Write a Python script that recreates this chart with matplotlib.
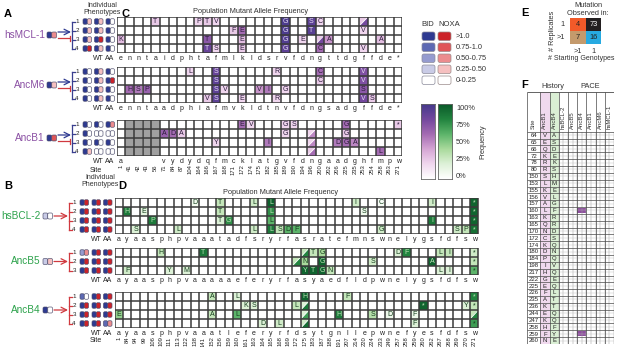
import matplotlib
matplotlib.use('Agg')
import matplotlib.pyplot as plt
from matplotlib.patches import Rectangle, FancyBboxPatch, Polygon
from matplotlib.colors import LinearSegmentedColormap
import numpy as np

plt.rcParams['font.family'] = ['Liberation Sans', 'DejaVu Sans']

W, H = 617, 347
fig = plt.figure(figsize=(W / 100, H / 100), dpi=100)
ov = fig.add_axes([0, 0, 1, 1])
ov.set_xlim(0, W); ov.set_ylim(H, 0); ov.axis('off')

# ---------------- DATA ----------------
purple_txt = '#8a4fa3'
green_txt = '#2ca24b'

# wild-type residues per grid
wt_mcl1 = list('enntaidphtafmlkldsrvfdngttdgffde*')
wt_m6 = list('enntaadphiafmvkldtnvfdngsadgffde*')
wt_b1 = ['a', '', '', '', ''] + list('vydydqfmcklatgvfdngaadghfmpw')
sites_b1 = [1, 41, 42, 43, 56, 71, 84, 87, 104, 164, 166, 167, 168, 171, 172, 174, 175,
            182, 185, 189, 190, 194, 196, 200, 202, 206, 225, 235, 253, 254, 258, 263, 271]
gray_b1 = [2, 3, 4, 5]

wt_bcl2 = list('ayaasphpvaaatadfsryrfasratefmnswnelygsfdfsw')
wt_b5 = list('ayaasphpvaaaaaeferyrfasyaedfldpwnelygsfdfsw')
wt_b4 = list('ayaasphpvaaatlefe' + 'ryrfdsytgnllepwnefyesfdfsw')
sites_b4 = [1, 84, 94, 99, 106, 109, 111, 113, 122, 138, 141, 152, 156, 159, 160, 161, 163,
            164, 165, 168, 169, 172, 175, 183, 187, 188, 191, 207, 214, 220, 224, 233, 249,
            257, 258, 259, 260, 262, 267, 268, 269, 270, 271]

# mutations: (replicate row, column, mutant residue, frequency)
mut_mcl1 = [(1, 5, 'T', .25), (1, 10, 'P', .2), (1, 11, 'T', .25), (1, 12, 'V', .2), (1, 20, 'G', .97),
            (1, 23, 'S', .9), (1, 24, 'C', .2),
            (2, 14, 'F', .25), (2, 15, 'E', .6), (2, 20, 'G', .97), (2, 23, 'T', .92), (2, 29, 'V', .2),
            (3, 1, 'K', .3), (3, 11, 'T', .7), (3, 15, 'E', .3), (3, 20, 'G', .95), (3, 22, 'E', .2),
            (3, 25, 'A', .45), (3, 31, 'A', .3),
            (4, 11, 'T', .85), (4, 12, 'S', .2), (4, 15, 'E', .25), (4, 20, 'G', .9), (4, 24, 'C', .6),
            (4, 29, 'V', .2)]
split_mcl1 = [(1, 29, .25, .8), (3, 24, .25, .8)]

mut_m6 = [(1, 9, 'L', .2), (1, 12, 'S', .85), (1, 19, 'R', .2), (1, 24, 'C', .6), (1, 29, 'V', .75),
          (2, 12, 'S', .9), (2, 24, 'C', .25), (2, 29, 'V', .75),
          (3, 2, 'H', .6), (3, 3, 'S', .55), (3, 4, 'P', .65), (3, 12, 'S', .9), (3, 13, 'V', .2),
          (3, 17, 'V', .45), (3, 18, 'I', .55), (3, 20, 'G', .2), (3, 29, 'S', .7),
          (4, 11, 'V', .25), (4, 12, 'S', .9), (4, 15, 'E', .2), (4, 19, 'R', .2), (4, 29, 'V', .8),
          (4, 30, 'S', .25)]
split_m6 = []

mut_b1 = [(1, 15, 'E', .6), (1, 16, 'V', .2), (1, 20, 'G', .2), (1, 21, 'S', .2), (1, 27, 'G', .6),
          (1, 33, '*', .25),
          (2, 6, 'A', .65), (2, 7, 'D', .6), (2, 8, 'A', .25), (2, 20, 'G', .2), (2, 27, 'G', .25),
          (3, 12, 'Y', .2), (3, 18, 'I', .55), (3, 26, 'D', .55), (3, 27, 'G', .6), (3, 28, 'A', .5),
          (4, 31, 'L', .6)]
split_b1 = [(2, 23, .2, .5), (3, 23, .2, .5), (4, 23, .25, .6)]

mut_bcl2 = [(1, 10, 'D', .08), (1, 13, 'T', .3), (1, 17, 'L', .25), (1, 19, 'L', .97), (1, 29, 'I', .25),
            (1, 32, 'C', .05), (1, 38, 'I', .25), (1, 43, '*', .95),
            (2, 2, 'H', .85), (2, 4, 'E', .15), (2, 13, 'T', .3), (2, 19, 'L', .75), (2, 30, 'S', .1),
            (2, 43, '*', .95),
            (3, 5, 'P', .85), (3, 13, 'T', .2), (3, 14, 'G', .75), (3, 19, 'L', .6), (3, 38, 'I', .85),
            (3, 43, '*', .95),
            (4, 3, 'S', .2), (4, 8, 'L', .25), (4, 17, 'L', .25), (4, 19, 'L', .85), (4, 20, 'S', .3),
            (4, 21, 'D', .6), (4, 22, 'F', .6), (4, 32, 'G', .25), (4, 41, 'S', .25), (4, 42, 'P', .3),
            (4, 43, '*', .9)]
split_bcl2 = []

mut_b5 = [(1, 6, 'H', .3), (1, 11, 'T', .85), (1, 24, 'T', .3), (1, 25, 'G', .4), (1, 34, 'D', .2),
          (1, 35, 'F', .8), (1, 39, 'L', .3), (1, 40, 'I', .3), (1, 43, '*', .25),
          (2, 23, 'N', .4), (2, 25, 'G', .95), (2, 31, 'S', .25), (2, 38, 'A', .95), (2, 43, '*', .3),
          (3, 2, 'F', .25), (3, 7, 'Y', .2), (3, 9, 'M', .2), (3, 23, 'Y', .95), (3, 24, 'T', .95),
          (3, 25, 'G', .95), (3, 26, 'N', .3), (3, 39, 'L', .2), (3, 40, 'I', .2), (3, 43, '*', .6)]
split_b5 = [(1, 23, .3, .8), (2, 22, .3, .8)]

mut_b4 = [(1, 12, 'A', .3), (1, 15, 'L', .2), (1, 23, 'H', .95), (1, 28, 'F', .3), (1, 43, '*', .8),
          (2, 16, 'K', .2), (2, 17, 'S', .2), (2, 22, 'L', .3), (2, 37, '*', .95), (2, 42, 'Y', .2),
          (2, 43, '*', .3),
          (3, 1, 'E', .45), (3, 12, 'A', .3), (3, 15, 'L', .6), (3, 27, 'H', .85), (3, 31, 'S', .35),
          (3, 33, 'D', .1), (3, 36, 'F', .1),
          (4, 18, 'D', .2), (4, 20, 'L', .25), (4, 36, 'F', .2), (4, 43, '*', .7)]
split_b4 = [(2, 23, .2, .85), (3, 23, .2, .7), (4, 23, .25, .9), (3, 43, .3, .8)]

# phenotype levels (BID, NOXA) 0..4 for [individual, WT, AA]
pheno_mcl1 = [[(4, 1), (4, 1), (4, 0)], [(4, 1), (4, 1), (4, 0)], [(4, 1), (4, 4), (4, 0)], [(4, 4), (4, 1), (4, 0)]]
pheno_m6 = [[(4, 0), (4, 1), (4, 0)], [(4, 0), (4, 1), (4, 4)], [(4, 0), (4, 1), (4, 0)], [(4, 0), (4, 1), (4, 0)]]
pheno_b1 = [[(4, 0), (4, 0), (4, 2)], [(4, 0), (0, 0), (0, 0)], [(4, 0), (4, 0), (4, 0)], [(4, 1), (0, 0), (0, 0)]]
pheno_bcl2 = [[(4, 4), (4, 4), (4, 4)], [(4, 4), (4, 4), (4, 4)], [(4, 4), (4, 4), (4, 4)], [(4, 4), (4, 4), (4, 4)]]
pheno_b5 = [[(2, 2), (4, 4), (4, 4)], [(4, 4), (4, 4), (4, 4)], [(4, 4), (4, 4), (4, 4)]]
pheno_b4 = [[(3, 0), (4, 4), (4, 4)], [(4, 4), (4, 4), (4, 4)], [(4, 4), (4, 4), (4, 4)], [(4, 4), (4, 4), (3, 2)]]
start_pheno = {'hsMCL-1': (4, 2), 'AncM6': (4, 1), 'AncB1': (4, 3),
               'hsBCL-2': (1, 0), 'AncB5': (1, 1), 'AncB4': (4, 0)}

# panel E
e_counts = [[4, 73], [7, 16]]
e_colors = [['#f15a29', '#231f20'], ['#c49a6c', '#27aae1']]
e_rows = ['1', '>1']
e_cols = ['>1', '1']

# panel F
f_sites = [64, 65, 66, 72, 78, 80, 150, 153, 155, 156, 157, 160, 163, 165, 170, 172, 174, 180, 184,
           198, 217, 222, 225, 226, 235, 236, 244, 247, 258, 259, 260]
f_ancb1 = list('VEQKRRSLKVALKQNCKDPIHGEFAKEKHFN')
f_ancb4 = list('ASDEKSHMELGFRRDSQNQVQEQLTTQQFYE')
f_pace = ['hsBCL-2', 'AncB5', 'AncB4', 'AncB1', 'AncM6', 'hsMCL-1']
f_hits = [(160, 'AncB4'), (259, 'AncB4')]

legend_levels = ['>1.0', '0.75-1.0', '0.50-0.75', '0.25-0.50', '0-0.25']
freq_ticks = ['100%', '75%', '50%', '25%', '0%']

# ---------------- STYLE ----------------
cmap_p = LinearSegmentedColormap.from_list('p', ['#ffffff', '#f0d6ee', '#d5a5d4', '#a46bb2', '#74489e', '#463a8c'])
cmap_g = LinearSegmentedColormap.from_list('g', ['#ffffff', '#ddf1d7', '#a9da9c', '#5cb46a', '#22843f', '#0b5a2a'])
blues = ['#ffffff', '#c9cbe6', '#959bcf', '#5d69b3', '#2e3a91']
reds = ['#ffffff', '#f6c0c0', '#ec8c8e', '#e05558', '#cc2229']


def pax(x0, y0, x1, y1):
    return fig.add_axes([x0 / W, 1 - y1 / H, (x1 - x0) / W, (y1 - y0) / H])


def draw_grid(box, wt, nrow, muts, splits, cmap, gray=(), sites=None, dark_txt='#2a1a3a', light_txt='#e6def2'):
    ax = pax(*box)
    n = len(wt)
    ax.set_xlim(0, n); ax.set_ylim(nrow, 0); ax.axis('off')
    for c in gray:
        ax.add_patch(Rectangle((c - 1, 0), 1, nrow, color='#a0a0a0', lw=0))
    for r, c, aa, f in muts:
        ax.add_patch(Rectangle((c - 1, r - 1), 1, 1, color=cmap(f), lw=0))
        ax.text(c - 0.5, r - 0.45, aa, ha='center', va='center', fontsize=5,
                color=light_txt if f > 0.7 else dark_txt)
    for r, c, f1, f2 in splits:
        ax.add_patch(Polygon([(c - 1, r - 1), (c, r - 1), (c - 1, r)], closed=True, color=cmap(f1), lw=0))
        ax.add_patch(Polygon([(c, r - 1), (c, r), (c - 1, r)], closed=True, color=cmap(f2), lw=0))
        ax.plot([c - 1, c], [r, r - 1], color='white', lw=0.6)
    ax.vlines(np.arange(n + 1), 0, nrow, color='#3a3a3a', lw=1.1)
    ax.hlines(np.arange(nrow + 1), 0, n, color='#3a3a3a', lw=1.1)
    for i, aa in enumerate(wt):
        ax.text(i + 0.5, nrow + 0.2, aa, ha='center', va='top', fontsize=5, color='#222', clip_on=False)
    if sites is not None:
        for i, s in enumerate(sites):
            ax.text(i + 0.5, nrow + 0.95, str(s), ha='center', va='top', rotation=90,
                    fontsize=4.2, color='#222', clip_on=False)
    return ax


def icon(x, y, b, r, w=8.5, h=5.5):
    ov.add_patch(FancyBboxPatch((x, y - h / 2), w / 2, h, boxstyle='round,pad=0,rounding_size=1.3',
                                fc=blues[b], ec='#4a4a6a', lw=0.45))
    ov.add_patch(FancyBboxPatch((x + w / 2, y - h / 2), w / 2, h, boxstyle='round,pad=0,rounding_size=1.3',
                                fc=reds[r], ec='#4a4a6a', lw=0.45))


def row_block(name, color, y_top, nrow, pheno, panel, name_right, icon_x, br_x, cols_x, br_color):
    yc = [y_top + 4.5 + 9 * i for i in range(nrow)]
    ymid = (yc[0] + yc[-1]) / 2
    ov.text(name_right, ymid, name, ha='right', va='center', fontsize=7.2, color=color)
    b, r = start_pheno[name]
    icon(icon_x, ymid, b, r, w=9.5, h=6)
    if panel == 'A':
        ov.annotate('', xy=(br_x - 1, ymid - 3), xytext=(icon_x + 11, ymid - 3),
                    arrowprops=dict(arrowstyle='->', color='#2e3a91', lw=0.9, shrinkA=0, shrinkB=0))
        ov.plot([icon_x + 11, br_x - 2], [ymid + 3, ymid + 3], color='#d0393f', lw=0.9)
        ov.plot([br_x - 2, br_x - 2], [ymid + 0.5, ymid + 5.5], color='#d0393f', lw=0.9)
    else:
        ov.annotate('', xy=(br_x - 1, ymid), xytext=(icon_x + 11, ymid),
                    arrowprops=dict(arrowstyle='->', color='#d0393f', lw=0.9, shrinkA=0, shrinkB=0))
    ov.plot([br_x, br_x], [yc[0], yc[-1]], color=br_color, lw=0.9)
    for i, y in enumerate(yc):
        ov.plot([br_x, br_x + 3], [y, y], color=br_color, lw=0.9)
        ov.text(br_x + 3.3, y, str(i + 1), ha='left', va='center', fontsize=4.5, color='#222')
        for j in range(3):
            bb, rr = pheno[i][j]
            icon(cols_x[j], y, bb, rr)
    yb = y_top + 9 * nrow
    ov.text(cols_x[1] + 4, yb + 2.2, 'WT', ha='center', va='top', fontsize=5, color='#222')
    ov.text(cols_x[2] + 4, yb + 2.2, 'AA', ha='center', va='top', fontsize=5, color='#222')


# ---------------- PANEL A / C ----------------
C_X0, C_X1 = 116.5, 402.5
D_X0, D_X1 = 114.5, 478.5
colsA = [83, 94.5, 106]
colsB = [80, 92, 103.5]

ov.text(4, 14, 'A', fontsize=8, fontweight='bold', va='center')
ov.text(121, 14, 'C', fontsize=8, fontweight='bold', va='center')
ov.text(4, 186, 'B', fontsize=8, fontweight='bold', va='center')
ov.text(118, 186, 'D', fontsize=8, fontweight='bold', va='center')
ov.text(521, 13, 'E', fontsize=8, fontweight='bold', va='center')
ov.text(521, 85, 'F', fontsize=8, fontweight='bold', va='center')

ov.text(102, 5.5, 'Individual', ha='center', va='center', fontsize=5, color='#333')
ov.text(102, 12.5, 'Phenotypes', ha='center', va='center', fontsize=5, color='#333')
ov.text(100, 177, 'Individual', ha='center', va='center', fontsize=5, color='#333')
ov.text(100, 184.5, 'Phenotypes', ha='center', va='center', fontsize=5, color='#333')
ov.text(251, 11, 'Population Mutant Allele Frequency', ha='center', va='center', fontsize=5.3, color='#333')
ov.text(281, 192, 'Population Mutant Allele Frequency', ha='center', va='center', fontsize=5.3, color='#333')

row_block('hsMCL-1', purple_txt, 17, 4, pheno_mcl1, 'A', 45, 47, 72, colsA, '#3a3f8f')
row_block('AncM6', purple_txt, 67, 4, pheno_m6, 'A', 45, 47, 72, colsA, '#3a3f8f')
row_block('AncB1', purple_txt, 120, 4, pheno_b1, 'A', 45, 47, 72, colsA, '#3a3f8f')
ov.text(96, 170, 'Site', ha='center', va='center', fontsize=5, color='#222')

draw_grid((C_X0, 17, C_X1, 53), wt_mcl1, 4, mut_mcl1, split_mcl1, cmap_p)
draw_grid((C_X0, 67, C_X1, 103), wt_m6, 4, mut_m6, split_m6, cmap_p)
draw_grid((C_X0, 120, C_X1, 156), wt_b1, 4, mut_b1, split_b1, cmap_p, gray=gray_b1, sites=sites_b1)

# ---------------- PANEL B / D ----------------
row_block('hsBCL-2', green_txt, 198, 4, pheno_bcl2, 'B', 41, 43, 69, colsB, '#d0393f')
row_block('AncB5', green_txt, 248, 3, pheno_b5, 'B', 41, 43, 69, colsB, '#d0393f')
row_block('AncB4', green_txt, 292, 4, pheno_b4, 'B', 41, 43, 69, colsB, '#d0393f')
ov.text(96, 341, 'Site', ha='center', va='center', fontsize=5, color='#222')

draw_grid((D_X0, 198, D_X1, 234), wt_bcl2, 4, mut_bcl2, split_bcl2, cmap_g, dark_txt='#143d1c', light_txt='#bfe3b8')
draw_grid((D_X0, 248, D_X1, 275), wt_b5, 3, mut_b5, split_b5, cmap_g, dark_txt='#143d1c', light_txt='#bfe3b8')
draw_grid((D_X0, 292, D_X1, 328), wt_b4, 4, mut_b4, split_b4, cmap_g, sites=sites_b4, dark_txt='#143d1c', light_txt='#bfe3b8')

# ---------------- LEGENDS ----------------
ov.text(428, 24, 'BID', ha='center', va='center', fontsize=5.5, color='#333')
ov.text(449, 24, 'NOXA', ha='center', va='center', fontsize=5.5, color='#333')
for i, lab in enumerate(legend_levels):
    y = 32 + 11 * i
    lvl = 4 - i
    ov.add_patch(FancyBboxPatch((422, y), 13, 8.5, boxstyle='round,pad=0,rounding_size=2',
                                fc=blues[lvl], ec='#8a8a9a', lw=0.5))
    ov.add_patch(FancyBboxPatch((438, y), 13, 8.5, boxstyle='round,pad=0,rounding_size=2',
                                fc=reds[lvl], ec='#9a8a8a', lw=0.5))
    ov.text(456, y + 4.5, lab, ha='left', va='center', fontsize=5.3, color='#333')

grad = np.linspace(1, 0, 100).reshape(-1, 1)
for (x0, cm) in ((421, cmap_p), (438, cmap_g)):
    a = pax(x0, 104, x0 + 14, 179)
    a.imshow(grad, aspect='auto', cmap=cm, vmin=0, vmax=1, extent=(0, 1, 0, 1))
    a.set_xticks([]); a.set_yticks([])
    for s in a.spines.values():
        s.set_color('#666'); s.set_linewidth(0.6)
for i, t in enumerate(freq_ticks):
    ov.text(456, 108 + 17.2 * i, t, ha='left', va='center', fontsize=5.3, color='#333')
ov.text(483, 142, 'Frequency', ha='center', va='center', rotation=90, fontsize=5.3, color='#333')

# ---------------- PANEL E ----------------
ov.text(588, 5.5, 'Mutation', ha='center', va='center', fontsize=5.3, color='#333')
ov.text(588, 13, 'Observed in:', ha='center', va='center', fontsize=5.3, color='#333')
ea = pax(570, 18, 601, 44)
ea.set_xlim(0, 2); ea.set_ylim(2, 0); ea.axis('off')
for i in range(2):
    for j in range(2):
        ea.add_patch(Rectangle((j, i), 1, 1, color=e_colors[i][j], lw=0))
        ea.text(j + 0.5, i + 0.5, str(e_counts[i][j]), ha='center', va='center', fontsize=5.3,
                color='white' if e_colors[i][j] == '#231f20' else '#222')
    ea.text(-0.35, i + 0.5, e_rows[i], ha='right', va='center', fontsize=5.3, color='#333', clip_on=False)
    ea.text(i + 0.5, 2.3, e_cols[i], ha='center', va='top', fontsize=5.3, color='#333', clip_on=False)
ov.text(552, 31, '# Replicates', ha='center', va='center', rotation=90, fontsize=5.3, color='#333')
ov.text(581, 58, '# Starting Genotypes', ha='center', va='center', fontsize=5, color='#333')

# ---------------- PANEL F ----------------
hdr = ['Site', 'AncB1', 'AncB4'] + f_pace
col_w = [1.45] + [1.0] * (len(hdr) - 1)
edges = np.concatenate([[0], np.cumsum(col_w)])
nR = len(f_sites)
fa = pax(527, 92, 614, 344)
hdr_h = 5.8
fa.set_xlim(0, edges[-1]); fa.set_ylim(nR + hdr_h, 0); fa.axis('off')
fa.add_patch(Rectangle((edges[1], 0), 1, nR + hdr_h, color='#f0d9ee', lw=0))
fa.add_patch(Rectangle((edges[2], 0), 1, nR + hdr_h, color='#daefd4', lw=0))
for k in range(len(f_pace) * 2 + 1):
    xx = edges[3] + 0.5 * k
    fa.vlines(xx, hdr_h, nR + hdr_h, color='#9a9a9a', lw=0.35)
fa.hlines(np.arange(nR + 1) + hdr_h, 0, edges[-1], color='#4a4a4a', lw=0.5)
fa.hlines(np.arange(nR) + hdr_h + 0.5, edges[3], edges[-1], color='#c0c0c0', lw=0.3)
fa.vlines(edges, 0, nR + hdr_h, color='#4a4a4a', lw=0.5)
fa.hlines(0, 0, edges[-1], color='#4a4a4a', lw=0.6)
for k, lab in enumerate(hdr):
    fa.text((edges[k] + edges[k + 1]) / 2, hdr_h - 0.4, lab, rotation=90, ha='center', va='bottom',
            fontsize=4.3, color='#333')
for i, s in enumerate(f_sites):
    y = hdr_h + i + 0.55
    fa.text(edges[0] + col_w[0] / 2, y, str(s), ha='center', va='center', fontsize=4.3, color='#222')
    fa.text((edges[1] + edges[2]) / 2, y, f_ancb1[i], ha='center', va='center', fontsize=4.3, color='#222')
    fa.text((edges[2] + edges[3]) / 2, y, f_ancb4[i], ha='center', va='center', fontsize=4.3, color='#222')
for s, g in f_hits:
    i = f_sites.index(s)
    k = hdr.index(g, 3)
    fa.add_patch(Rectangle((edges[k], hdr_h + i + 0.15), 1, 0.7, color='#8e4f9e', lw=0))
ov.text(553, 86, 'History', ha='center', va='center', fontsize=5.3, color='#333')
ov.text(590, 86, 'PACE', ha='center', va='center', fontsize=5.3, color='#333')

fig.savefig('out.png', dpi=100)
